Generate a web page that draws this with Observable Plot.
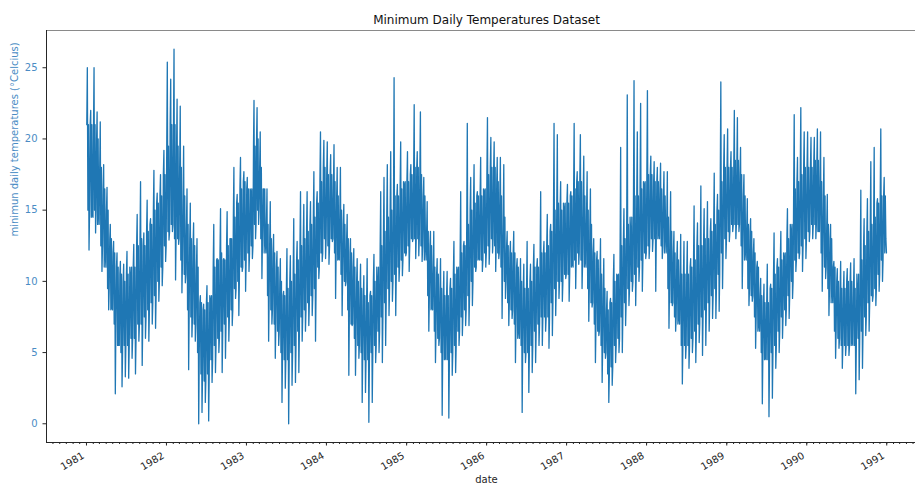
<!DOCTYPE html>
<html>
<head>
<meta charset="utf-8">
<script src="https://cdn.jsdelivr.net/npm/d3@7"></script>
<script src="https://cdn.jsdelivr.net/npm/@observablehq/plot@0.6"></script>
<style>
  html, body { margin: 0; padding: 0; background: #fff; overflow: hidden; width: 915px; height: 484px; }
  #chart svg { max-width: none !important; height: 484px !important; }
</style>
</head>
<body>
<div id="chart"></div>
<script>
// Monthly extremes: [high, low, high, low] for each month Jan..Dec
const t1981 = [25.0,12.2,22.0,14.6, 25.0,13.4,21.9,15.0, 21.2,10.7,18.2,11.8, 16.6,8.0,14.0,8.2, 12.8,2.1,12.0,5.5, 11.4,2.6,11.2,3.3, 12.1,3.2,10.4,4.6, 12.6,3.5,14.7,5.8, 17.0,4.1,13.4,6.0, 15.7,5.8,14.4,7.0, 17.8,6.7,16.2,8.6, 17.5,9.7,19.2,11.4];
const t1982 = [25.4,12.9,24.2,13.5, 26.3,10.1,22.8,12.6, 22.3,9.2,19.5,9.9, 16.5,3.8,15.5,6.1, 14.1,5.8,13.0,0.0, 9.0,0.8,8.4,1.5, 9.7,0.2,8.7,2.9, 14.0,3.6,11.6,5.0, 15.1,3.6,11.6,4.6, 14.9,5.8,13.0,6.9, 18.0,8.8,16.1,7.6, 18.7,10.7,17.7,9.3];
const t1983 = [17.3,10.7,16.3,11.6, 22.7,13.0,22.2,14.0, 20.5,10.2,16.5,12.8, 16.5,5.8,15.6,7.0, 13.3,4.6,12.1,5.5, 11.6,1.5,9.3,2.5, 12.3,0.0,11.8,2.7, 14.4,2.9,12.8,3.6, 16.3,5.8,15.4,6.5, 16.3,6.9,15.6,7.6, 17.7,5.8,16.3,10.2, 20.5,11.4,19.9,11.6];
const t1984 = [19.8,11.2,18.9,12.8, 19.6,8.8,18.0,11.6, 18.0,7.6,15.4,9.7, 14.7,3.4,13.0,6.9, 12.3,3.4,11.6,4.6, 11.2,1.5,10.4,2.2, 11.6,0.1,9.3,1.5, 11.9,4.3,9.8,5.0, 16.3,4.3,17.3,5.5, 18.2,7.6,19.1,8.6, 24.3,7.6,16.8,10.0, 19.8,10.4,16.8,11.8];
const t1985 = [19.1,10.7,18.2,12.8, 22.4,11.6,19.1,11.8, 21.9,11.4,17.3,12.6, 15.6,6.5,13.5,8.2, 13.5,4.3,11.6,5.5, 11.6,0.6,10.7,4.6, 10.7,0.4,10.2,3.4, 12.8,3.6,10.7,5.5, 16.3,6.2,12.8,6.9, 21.1,6.9,17.3,8.3, 18.2,10.7,16.3,11.6, 18.7,10.7,16.3,11.0];
const t1986 = [21.5,11.2,20.1,12.0, 19.8,10.7,18.7,11.6, 18.7,7.4,18.2,8.8, 13.5,6.9,12.8,7.4, 13.5,4.3,11.6,6.5, 11.6,0.8,11.2,4.3, 12.8,2.2,11.2,3.6, 12.6,4.3,11.6,5.5, 16.3,5.5,12.8,6.5, 14.7,5.3,14.0,6.2, 21.1,7.6,20.3,8.8, 17.0,8.6,15.1,10.2];
const t1987 = [16.8,8.6,16.3,11.2, 21.1,9.5,17.7,11.2, 20.3,9.5,18.8,11.4, 17.7,7.2,16.5,8.2, 13.0,4.3,12.1,6.2, 13.0,2.9,11.6,4.6, 9.3,1.5,8.8,2.7, 11.9,4.3,10.4,5.0, 19.4,5.0,15.1,6.9, 23.1,8.3,13.4,9.3, 24.1,8.3,20.5,10.0, 22.5,9.3,16.8,11.6];
const t1988 = [23.4,11.6,18.8,12.1, 18.4,9.3,18.0,13.5, 18.3,11.6,17.7,13.5, 17.7,6.7,16.3,8.3, 13.5,6.5,12.8,7.4, 13.3,2.8,12.8,4.6, 12.8,3.9,11.6,5.0, 15.3,4.3,14.1,5.7, 16.7,4.8,15.1,5.5, 15.6,6.5,14.4,7.4, 17.6,7.4,16.1,7.9, 24.0,9.5,20.3,11.6];
const t1989 = [20.7,12.8,19.1,13.5, 22.0,13.0,21.5,13.5, 19.4,9.5,17.5,12.1, 15.8,8.3,14.4,8.6, 13.0,5.3,11.4,6.9, 10.2,1.4,9.8,4.6, 11.2,0.5,9.8,1.8, 13.4,3.9,11.6,5.0, 13.5,6.0,11.6,6.9, 15.1,7.4,13.5,8.8, 21.7,10.7,18.7,11.6, 22.2,10.7,20.5,11.6];
const t1990 = [20.5,12.8,20.1,13.0, 20.1,13.0,20.7,13.5, 20.5,9.3,18.7,10.2, 16.1,7.6,14.0,9.3, 11.4,4.6,10.9,5.3, 11.4,3.9,10.7,4.8, 10.9,4.8,11.3,5.7, 11.6,2.1,9.3,3.1, 16.4,3.9,14.4,6.2, 15.8,6.5,18.4,8.6, 19.4,8.3,15.8,9.3, 20.7,10.0,17.3,13.0];

// Dense core band, per half-month: [low, high] (1st half), [low, high] (2nd half) for Jan..Dec
const c1981 = [15,21,14.5,21, 15,21,14,20, 12.5,18,11,16.5, 9.5,15,8,13, 7,12,5.5,11, 5,10.5,5.5,10, 5.5,10.5,6,11, 6,11,7,12.5, 7,13,7.5,12.5, 8,13.5,8.5,14, 9,15,10,15.5, 11,16,12.5,17.5];
const c1982 = [13.5,19.5,14,21, 13,21,13,19.5, 11.5,18,10.5,16, 8,14,7.5,13, 7,12.5,5,11, 3.5,8.5,3,8, 3.5,8.5,4.5,9, 5.5,11,6,11.5, 6.5,12,7,11.5, 7.5,12.5,8,13, 9.5,14.5,10,15.5, 11,16.5,11.5,17];
const c1983 = [12,16.5,12.5,16.5, 14,19.5,15,20, 13,18,12,16.5, 9,14,8,13, 7,12,6.5,11, 5,10,4.5,9, 4.5,9.5,5,10, 5.5,10.5,6.5,11.5, 7.5,12.5,8,13, 8.5,13.5,9,14, 9.5,14.5,11,15.5, 12,17,13,18];
const c1984 = [12.5,17.5,13,17.5, 12,17,11.5,16, 10.5,15,10,14, 8,13,7,12, 6,11,5.5,10, 5,9.5,4.5,9, 4.5,8.5,5,9, 5.5,10,6.5,11, 7.5,12.5,8.5,13.5, 9.5,14.5,10,15, 10.5,16,11,16, 11.5,16.5,12,17];
const c1985 = [12.5,17,13,17.5, 13,18,13,18, 12.5,17.5,11.5,16, 9,13.5,8,12.5, 6.5,11,6,10.5, 5,9.5,4.5,9, 4.5,9,5,9.5, 5.5,10.5,6.5,11, 7.5,12,8,12.5, 9,14,10,15, 11,15.5,11.5,16, 11.5,16,12,16.5];
const c1986 = [12.5,17.5,13,18, 12.5,18,12,17, 11,16,10,14.5, 8.5,12.5,8,12, 7,12,6,11, 5.5,10,5,9.5, 5,9.5,5.5,10, 6.5,11,7,11, 7.5,12,7.5,12, 7.5,12.5,8.5,13.5, 9.5,15,10,15.5, 10,15,10.5,15.5];
const c1987 = [10.5,15.5,11,16, 11.5,16.5,12,17, 11.5,17,11,16, 9.5,15,8.5,14, 7,12,6.5,11.5, 5.5,10.5,5,9.5, 3.5,8,4,8.5, 5.5,10,6,10.5, 7.5,12.5,8.5,13, 9.5,14,10,14.5, 10.5,16,11,16, 11.5,16.5,12,17];
const c1988 = [12.5,17.5,13,17.5, 13,17,13,17, 12.5,16.5,12,16, 9.5,14.5,8.5,13.5, 7.5,12,7,11.5, 5.5,10.5,5.5,10.5, 5.5,10.5,6,11, 6.5,11.5,7,12.5, 7.5,12.5,8,13, 8.5,13,9,13.5, 9.5,14,10.5,15, 12,17,13,18];
const c1989 = [13.5,18,14,18, 14,18.5,14,18.5, 12.5,17.5,11.5,16, 9.5,14,9,13.5, 7.5,12,6.5,11, 5,9,4.5,8.5, 4.5,8.5,5,9.5, 5.5,10.5,6.5,11, 7.5,11.5,8,12, 9,13,10,14, 11.5,16.5,12,17, 12.5,17.5,13,18];
const c1990 = [13.5,18,14,18, 14,18.5,13.5,18.5, 12,17,11,16, 9.5,14,8.5,13, 6.5,11,6,10, 5.5,9.5,5.5,9.5, 5.5,10,5.5,10, 5.5,9.5,6,10.5, 6.5,11.5,7.5,12.5, 8.5,13.5,9,14, 9.5,14.5,10.5,15.5, 11.5,16,12,16];

const years = [1981, 1982, 1983, 1984, 1985, 1986, 1987, 1988, 1989, 1990];
const extremes = [t1981, t1982, t1983, t1984, t1985, t1986, t1987, t1988, t1989, t1990];
const cores = [c1981, c1982, c1983, c1984, c1985, c1986, c1987, c1988, c1989, c1990];
const xTickYears = [1981, 1982, 1983, 1984, 1985, 1986, 1987, 1988, 1989, 1990, 1991];
const yTicks = [0, 5, 10, 15, 20, 25];

// Order of the readings inside each half-month
const halfOrder = ["cHi", "hi", "cLo", "cHi", "lo", "cLo"];
const data = [];
years.forEach((yr, k) => {
  for (let m = 0; m < 12; m++) {
    const halves = [
      {hi: extremes[k][4*m], lo: extremes[k][4*m+1], cLo: cores[k][4*m], cHi: cores[k][4*m+1]},
      {hi: extremes[k][4*m+2], lo: extremes[k][4*m+3], cLo: cores[k][4*m+2], cHi: cores[k][4*m+3]}
    ];
    const start = Date.UTC(yr, m, 1);
    const len = Date.UTC(yr, m + 1, 1) - start;
    const n = halves.length * halfOrder.length;
    halves.forEach((r, h) => {
      halfOrder.forEach((key, j) => {
        const idx = h * halfOrder.length + j;
        data.push({date: new Date(start + (idx + 0.5) * len / n), temp: r[key]});
      });
    });
  }
});

const blue = "#1f77b4";
const labelBlue = "#4a8cc4";
const ink = "#262626";
const xTicks = xTickYears.map(y => new Date(Date.UTC(y, 0, 1)));
const monthTicks = d3.utcMonth.range(new Date(Date.UTC(1980, 7, 1)), new Date(Date.UTC(1991, 7, 1)));
const xDomain = [new Date(Date.UTC(1980, 6, 2, 13)), new Date(Date.UTC(1991, 6, 1, 11))];
const yDomain = [-1.315, 27.615];

const chart = Plot.plot({
  width: 930,
  height: 484,
  marginLeft: 46,
  marginRight: 4,
  marginTop: 30,
  marginBottom: 42,
  style: {fontFamily: "DejaVu Sans, sans-serif", fontSize: "10px", background: "#fff", maxWidth: "none"},
  x: {type: "utc", domain: xDomain},
  y: {domain: yDomain},
  marks: [
    Plot.frame({stroke: "#8a8a8a"}),
    Plot.line(data, {x: "date", y: "temp", stroke: blue, strokeWidth: 1.3}),
    Plot.ruleX([xDomain[0]], {stroke: ink, strokeWidth: 1}),
    Plot.ruleY([yDomain[0]], {stroke: ink, strokeWidth: 1}),
    Plot.axisX({ticks: monthTicks, tickSize: 2, text: null, label: null, stroke: ink}),
    Plot.axisX({ticks: xTicks, tickSize: 3.5, text: null, label: null, stroke: ink}),
    Plot.text(xTicks, {x: d => d, text: d => String(d.getUTCFullYear()), frameAnchor: "bottom", dy: 9, dx: -5, rotate: -30, textAnchor: "end", lineAnchor: "top", fill: ink, fontSize: 10}),
    Plot.axisY({ticks: yTicks, tickSize: 3.5, text: null, label: null, stroke: ink}),
    Plot.axisY({ticks: yTicks, tickSize: 0, tickPadding: 9, label: null, fill: labelBlue, fontSize: 10}),
    Plot.text(["Minimum Daily Temperatures Dataset"], {frameAnchor: "top", dy: -10, lineAnchor: "middle", fontSize: 12, fill: "#111"}),
    Plot.text(["date"], {frameAnchor: "bottom", dy: 37, lineAnchor: "middle", fontSize: 10, fill: ink}),
    Plot.text(["minimun daily temperatures (°Celcius)"], {frameAnchor: "left", dx: -32, rotate: -90, lineAnchor: "middle", fontSize: 10, fill: labelBlue})
  ]
});
document.getElementById("chart").appendChild(chart);
</script>
</body>
</html>
